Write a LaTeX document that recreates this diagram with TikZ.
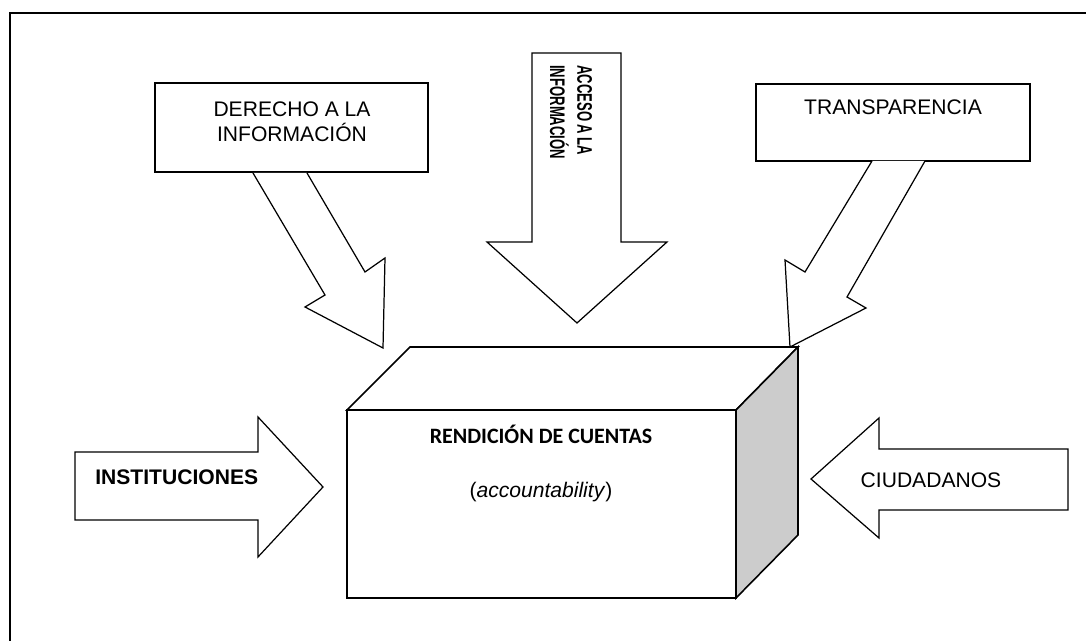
\documentclass[tikz,border=0pt]{standalone}
\usepackage{fontspec}
\usepackage{graphicx}
\setmainfont{Liberation Sans}
\newfontfamily\calib{Carlito}
\usetikzlibrary{positioning}

\tikzset{
	marco/.style={line width=1.1pt},
	caja/.style={draw,line width=0.9pt,fill=white},
	flecha/.style={draw,line width=0.7pt,fill=white,line join=miter},
	texto/.style={inner sep=0pt,font=\fontsize{12}{14}\selectfont}
}
\newcommand{\estrecho}[1]{\scalebox{0.62}[1]{#1}}

\begin{document}
\begin{tikzpicture}[x=0.02cm,y=-0.02cm]
	\useasboundingbox (0,0) rectangle (1086,641);
	\draw[marco] (10,641)--(10,13)--(1086,13);
	% cajas de arriba
	\draw[caja] (155,83) rectangle (428,172);
	\node (derecho) at (292,122)[texto,align=center] {DERECHO A LA\\INFORMACIÓN};
	\draw[caja] (756,84) rectangle (1030,161);
	\node (transp) at (893,107)[texto] {TRANSPARENCIA};
	% flechas
	\draw[flecha] (253,173)--(325,295)--(305,307)--(383,348)--(385,258)--(365,272)--(307,173);
	\draw[flecha] (532,53)--(532,242)--(487,242)--(577,323)--(667,242)--(621,242)--(621,53)--cycle;
	\node (acceso) at (571,65)[texto,font=\fontsize{12}{15.5}\selectfont\bfseries,rotate=-90,anchor=west,align=left] {\estrecho{ACCESO A LA}\\\estrecho{INFORMACIÓN}};
	\draw[flecha] (872,161)--(805,272)--(785,260)--(790,347)--(866,308)--(847,297)--(925,161);
	\draw[flecha] (75,452)--(258,452)--(258,417)--(323,487)--(258,557)--(258,520)--(75,520)--cycle;
	\node (instit) at (95,477)[texto,anchor=west,font=\fontsize{12}{14}\selectfont\bfseries] {INSTITUCIONES};
	\draw[flecha] (1068,449)--(879,449)--(879,418)--(811,479)--(879,538)--(879,510)--(1068,510)--cycle;
	\node (ciudad) at (931,480)[texto] {CIUDADANOS};
	% caja central
	\draw[caja] (347,410)--(410,347)--(798,347)--(736,410)--cycle;
	\draw[caja,fill=gray!40] (736,410)--(798,347)--(798,535)--(736,598)--cycle;
	\draw[caja] (347,410) rectangle (736,598);
	\node (rendicion) at (541,434)[texto,font=\fontsize{12.5}{14}\calib\bfseries] {RENDICIÓN DE CUENTAS};
	\node (account) at (541,492)[texto] {(\textit{accountability})};
\end{tikzpicture}
\end{document}
